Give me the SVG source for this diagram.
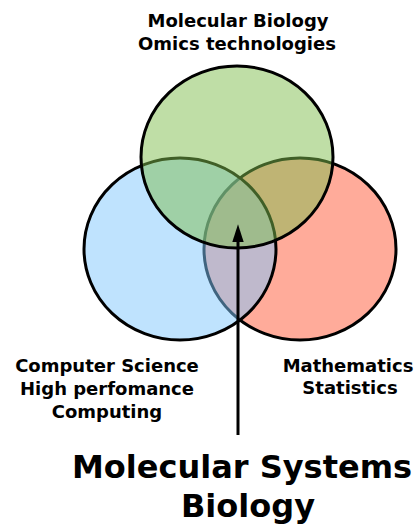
<svg xmlns="http://www.w3.org/2000/svg" width="418" height="530" viewBox="0 0 418 530">
  <style>
    .set { stroke: #000; stroke-width: 3; fill-opacity: 0.5; }
    .lbl { font-family: "DejaVu Sans", "Liberation Sans", sans-serif; font-weight: bold; font-size: 18px; fill: #000; text-anchor: middle; }
    .big { font-family: "DejaVu Sans", "Liberation Sans", sans-serif; font-weight: bold; font-size: 32px; fill: #000; text-anchor: middle; }
    .conn { stroke: #000; stroke-width: 3; fill: none; }
  </style>
  <defs>
    <marker id="arrow" markerUnits="userSpaceOnUse" markerWidth="18" markerHeight="28" refX="16" refY="9" orient="auto" viewBox="0 0 28 18">
      <polygon points="0,0 28,9 0,18" fill="#000"/>
    </marker>
  </defs>
  <rect width="418" height="530" fill="#fff"/>
  <g id="math">
    <ellipse class="set" cx="300" cy="249" rx="96" ry="91" fill="#ff5735"/>
    <text class="lbl" x="348" y="372">Mathematics</text>
    <text class="lbl" x="350" y="394">Statistics</text>
  </g>
  <g id="cs">
    <ellipse class="set" cx="180" cy="249" rx="96" ry="91" fill="#7fc7fd"/>
    <text class="lbl" x="107" y="372">Computer Science</text>
    <text class="lbl" x="107" y="395">High perfomance</text>
    <text class="lbl" x="107" y="418">Computing</text>
  </g>
  <g id="bio">
    <ellipse class="set" cx="237" cy="157" rx="96" ry="91" fill="#7fbd4d"/>
    <text class="lbl" x="238" y="27">Molecular Biology</text>
    <text class="lbl" x="237" y="50">Omics technologies</text>
  </g>
  <g id="connectors">
    <line class="conn" x1="238" y1="435" x2="238" y2="232" marker-end="url(#arrow)"/>
  </g>
  <g id="msb">
    <text class="big" x="242" y="478">Molecular Systems</text>
    <text class="big" x="248" y="517">Biology</text>
  </g>
</svg>
